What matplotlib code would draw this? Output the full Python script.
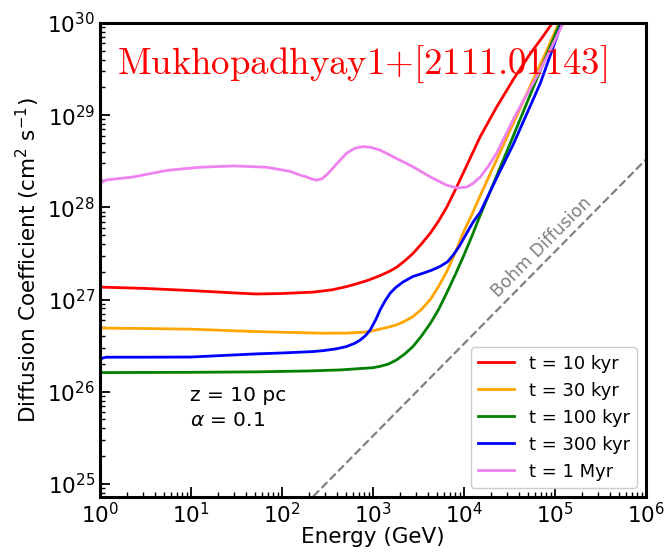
import numpy as np
import matplotlib
matplotlib.use("Agg")
import matplotlib.pyplot as plt

# log10(E/GeV) points and log10(D / cm^2 s^-1) values
red_logE = [0, 0.5, 1.0, 1.5, 1.72, 2.0, 2.34, 2.55, 2.71, 2.82, 2.95, 3.08, 3.19, 3.26, 3.35, 3.44, 3.53, 3.63, 3.72, 3.81, 3.9, 4.0, 4.09, 4.18, 4.27, 4.36, 4.55, 4.73, 4.85, 4.95, 5.0]
red_logD = [27.135, 27.12, 27.097, 27.07, 27.06, 27.065, 27.08, 27.105, 27.14, 27.17, 27.21, 27.26, 27.31, 27.35, 27.42, 27.50, 27.60, 27.72, 27.85, 28.00, 28.18, 28.39, 28.58, 28.77, 28.93, 29.09, 29.40, 29.67, 29.83, 29.97, 30.04]

orange_logE = [0, 0.5, 1.0, 1.72, 2.45, 2.7, 2.9, 3.0, 3.08, 3.17, 3.26, 3.35, 3.44, 3.53, 3.63, 3.72, 3.81, 3.9, 3.99, 4.09, 4.18, 4.36, 4.55, 4.73, 4.9, 5.02, 5.06]
orange_logD = [26.69, 26.685, 26.678, 26.652, 26.634, 26.635, 26.645, 26.66, 26.68, 26.70, 26.725, 26.765, 26.815, 26.89, 27.0, 27.14, 27.30, 27.50, 27.72, 27.93, 28.13, 28.52, 28.93, 29.32, 29.68, 29.95, 30.04]

green_logE = [0, 1.0, 1.72, 2.3, 2.64, 2.85, 3.0, 3.08, 3.17, 3.26, 3.35, 3.44, 3.53, 3.63, 3.72, 3.81, 3.9, 3.99, 4.08, 4.16, 4.35, 4.54, 4.84, 5.04, 5.08]
green_logD = [26.207, 26.21, 26.215, 26.225, 26.236, 26.25, 26.26, 26.275, 26.30, 26.345, 26.41, 26.49, 26.60, 26.74, 26.89, 27.07, 27.26, 27.46, 27.67, 27.87, 28.32, 28.77, 29.49, 29.96, 30.05]

blue_logE = [0, 0.03, 0.07, 0.5, 1.0, 1.72, 2.0, 2.34, 2.45, 2.6, 2.71, 2.8, 2.86, 2.92, 2.97, 3.03, 3.08, 3.13, 3.19, 3.25, 3.33, 3.44, 3.55, 3.65, 3.74, 3.82, 3.88, 3.95, 4.03, 4.1, 4.18, 4.36, 4.54, 4.84, 5.06, 5.09]
blue_logD = [26.345, 26.365, 26.374, 26.374, 26.376, 26.41, 26.42, 26.435, 26.445, 26.465, 26.49, 26.525, 26.56, 26.61, 26.67, 26.78, 26.89, 26.98, 27.07, 27.13, 27.19, 27.25, 27.285, 27.32, 27.36, 27.41, 27.48, 27.58, 27.72, 27.84, 27.95, 28.32, 28.68, 29.35, 29.96, 30.03]

violet_logE = [0, 0.07, 0.37, 0.73, 1.1, 1.47, 1.83, 2.09, 2.2, 2.27, 2.32, 2.38, 2.44, 2.5, 2.6, 2.71, 2.8, 2.89, 2.98, 3.08, 3.26, 3.44, 3.63, 3.81, 3.93, 4.03, 4.1, 4.18, 4.27, 4.36, 4.45, 4.54, 4.67, 4.8, 4.94, 5.07, 5.1]
violet_logD = [28.261, 28.297, 28.33, 28.40, 28.435, 28.449, 28.435, 28.39, 28.35, 28.33, 28.31, 28.295, 28.31, 28.36, 28.47, 28.587, 28.64, 28.66, 28.65, 28.62, 28.53, 28.44, 28.33, 28.24, 28.21, 28.22, 28.26, 28.33, 28.45, 28.59, 28.77, 28.95, 29.19, 29.42, 29.69, 29.96, 30.02]

series_labels = ["t = 10 kyr", "t = 30 kyr", "t = 100 kyr", "t = 300 kyr", "t = 1 Myr"]
series_colors = ["red", "orange", "green", "blue", "violet"]

bohm_logE = [0, 6]
bohm_logD = [22.52, 28.52]

fig = plt.figure(figsize=(6.66, 5.54), dpi=100)
ax = fig.add_axes([0.150, 0.1029, 0.820, 0.8556])

all_E = [red_logE, orange_logE, green_logE, blue_logE, violet_logE]
all_D = [red_logD, orange_logD, green_logD, blue_logD, violet_logD]
for le, ld, lab, c in zip(all_E, all_D, series_labels, series_colors):
    ax.plot(10 ** np.array(le), 10 ** np.array(ld), color=c, lw=2.0, label=lab,
            solid_joinstyle="round")

ax.plot(10 ** np.array(bohm_logE), 10 ** np.array(bohm_logD), color="gray", ls="--", lw=1.6)

ax.set_xscale("log")
ax.set_yscale("log")
ax.set_xlim(1, 1e6)
ax.set_ylim(7.2e24, 1e30)

for s in ax.spines.values():
    s.set_linewidth(2.2)
ax.tick_params(which="both", direction="in", top=False, right=False, labelsize=15.5)
ax.tick_params(which="major", length=7, width=1.3)
ax.tick_params(which="minor", length=3.5, width=1.0)
ax.xaxis.set_minor_locator(matplotlib.ticker.LogLocator(base=10, subs=np.arange(2, 10), numticks=20))
ax.yaxis.set_minor_locator(matplotlib.ticker.LogLocator(base=10, subs=np.arange(2, 10), numticks=20))
ax.xaxis.set_minor_formatter(matplotlib.ticker.NullFormatter())
ax.yaxis.set_minor_formatter(matplotlib.ticker.NullFormatter())

ax.set_xlabel("Energy (GeV)", fontsize=15.5, labelpad=0)
ax.set_ylabel(r"Diffusion Coefficient (cm$^2$ s$^{-1}$)", fontsize=15.5, labelpad=4)

ax.text(0.165, 0.215, "z = 10 pc", transform=ax.transAxes, fontsize=14.5, va="center", ha="left")
ax.text(0.165, 0.162, r"$\alpha$ = 0.1", transform=ax.transAxes, fontsize=14.5, va="center", ha="left")

ax.text(0.808, 0.527, "Bohm Diffusion", transform=ax.transAxes, fontsize=12.5, color="gray",
        rotation=45, ha="center", va="center", rotation_mode="anchor")

ax.text(0.031, 0.912, r"$\mathrm{Mukhopadhyay1{+}[2111.01143]}$", transform=ax.transAxes,
        fontsize=26.5, color="red", ha="left", va="center", math_fontfamily="cm")

ax.legend(loc="lower right", fontsize=13, framealpha=1.0)

fig.savefig("out.png", dpi=100)
